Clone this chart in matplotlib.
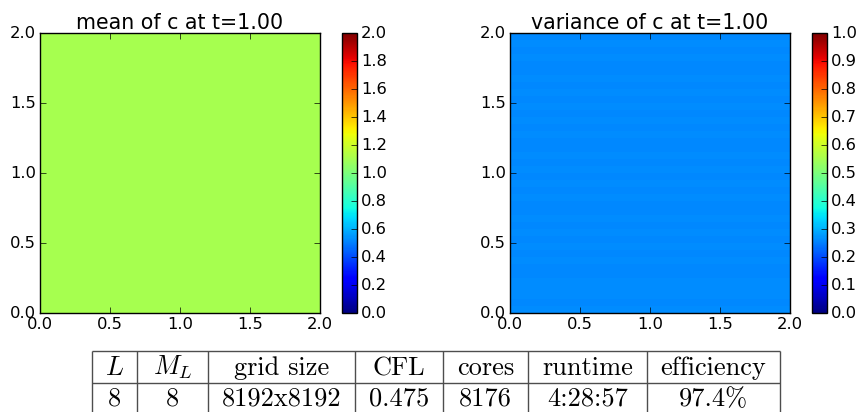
import numpy as np
import matplotlib
matplotlib.use("Agg")
import matplotlib.pyplot as plt

plt.style.use("classic")
plt.rcParams["figure.facecolor"] = "white"
plt.rcParams["savefig.facecolor"] = "white"
plt.rcParams["mathtext.fontset"] = "cm"

# Field statistics at t = 1.00 on the domain [0, 2] x [0, 2]
t_final = 1.00
domain = [0.0, 2.0]
mean_value = 1.107
# variance per row (bottom to top), nearly uniform with faint horizontal streaks
variance_rows = [0.262, 0.261, 0.263, 0.262, 0.262, 0.260, 0.261, 0.263,
                 0.261, 0.262, 0.260, 0.263, 0.261, 0.262, 0.261, 0.261,
                 0.263, 0.261, 0.262, 0.260, 0.262, 0.261, 0.263, 0.261,
                 0.261, 0.263, 0.261, 0.262, 0.260, 0.262, 0.261, 0.262,
                 0.261, 0.263, 0.261, 0.261, 0.262, 0.260, 0.262, 0.261]
mean_range = (0.0, 2.0)
var_range = (0.0, 1.0)
axis_ticks = [0.0, 0.5, 1.0, 1.5, 2.0]
mean_cbar_ticks = [0.0, 0.2, 0.4, 0.6, 0.8, 1.0, 1.2, 1.4, 1.6, 1.8, 2.0]
var_cbar_ticks = [0.0, 0.1, 0.2, 0.3, 0.4, 0.5, 0.6, 0.7, 0.8, 0.9, 1.0]

# Run summary table
table_header = [r"$L$", r"$M_L$", "grid size", "CFL", "cores", "runtime", "efficiency"]
table_row = ["8", "8", "8192x8192", "0.475", "8176", "4:28:57", "97.4%"]

W, H = 860, 412
fig = plt.figure(figsize=(W / 100, H / 100), dpi=100)


def px_axes(x0, y0, x1, y1):
    return fig.add_axes([x0 / W, 1 - y1 / H, (x1 - x0) / W, (y1 - y0) / H])


def field_panel(ax, cax, field, vrange, title, cticks):
    im = ax.imshow(field, cmap="jet", vmin=vrange[0], vmax=vrange[1],
                   origin="lower", extent=[domain[0], domain[1], domain[0], domain[1]],
                   interpolation="nearest", aspect="auto")
    ax.set_xlim(domain)
    ax.set_ylim(domain)
    ax.set_xticks(axis_ticks)
    ax.set_yticks(axis_ticks)
    ax.xaxis.set_major_formatter(matplotlib.ticker.FormatStrFormatter("%.1f"))
    ax.yaxis.set_major_formatter(matplotlib.ticker.FormatStrFormatter("%.1f"))
    ax.tick_params(labelsize=11.8, pad=3, length=4)
    ax.set_title(title, fontsize=14.8, pad=3)
    cb = fig.colorbar(im, cax=cax, ticks=cticks)
    cb.ax.yaxis.set_major_formatter(matplotlib.ticker.FormatStrFormatter("%.1f"))
    cb.ax.tick_params(labelsize=11.8, pad=3, length=4)
    cb.outline.set_linewidth(1.0)
    return im


n = len(variance_rows)
mean_field = np.full((n, n), mean_value)
var_field = np.repeat(np.array(variance_rows)[:, None], n, axis=1)

ax1 = px_axes(40, 33, 320, 313)
cax1 = px_axes(342, 33, 357, 313)
ax2 = px_axes(510, 33, 790, 313)
cax2 = px_axes(812, 33, 827, 313)

field_panel(ax1, cax1, mean_field, mean_range, "mean of c at t=%.2f" % t_final, mean_cbar_ticks)
field_panel(ax2, cax2, var_field, var_range, "variance of c at t=%.2f" % t_final, var_cbar_ticks)

# Table drawn in pixel coordinates
tab = fig.add_axes([0, 0, 1, 1])
tab.set_xlim(0, W)
tab.set_ylim(H, 0)
tab.axis("off")
col_edges = [92, 137, 208, 355, 443, 528, 647, 780]
row_edges = [351, 383, 415]
line_kw = dict(color="0.3", lw=1.0, solid_capstyle="butt")
for yy in row_edges:
    tab.plot([col_edges[0], col_edges[-1]], [yy, yy], **line_kw)
for xx in col_edges:
    tab.plot([xx, xx], [row_edges[0], row_edges[-1]], **line_kw)

for i, (h, v) in enumerate(zip(table_header, table_row)):
    xc = 0.5 * (col_edges[i] + col_edges[i + 1])
    tab.text(xc, 375, h, ha="center", va="baseline", fontsize=19, family="cmr10")
    tab.text(xc, 406, v, ha="center", va="baseline", fontsize=19, family="cmr10")

fig.savefig("out.png", dpi=100)
